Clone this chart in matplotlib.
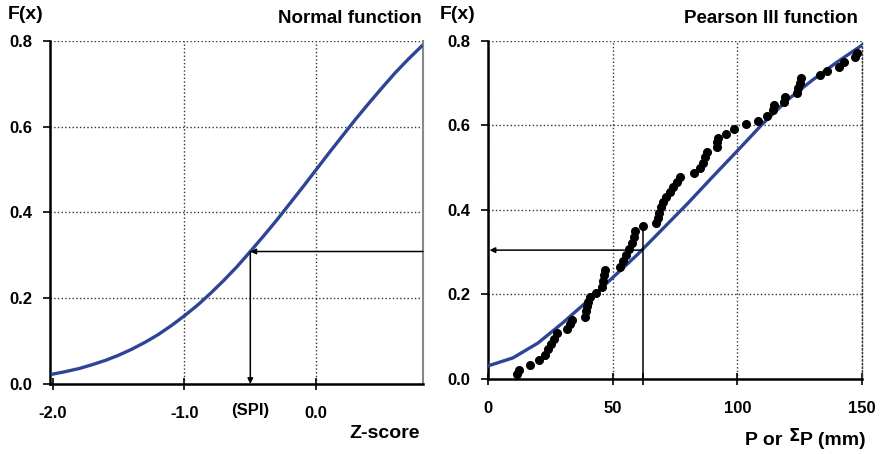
import numpy as np
import matplotlib.pyplot as plt

plt.rcParams['font.family'] = ['Liberation Sans', 'DejaVu Sans']
plt.rcParams['font.weight'] = 'bold'

# normal CDF
z = [-2.0, -1.9, -1.8, -1.7, -1.6, -1.5, -1.4, -1.3, -1.2, -1.1, -1.0, -0.9, -0.8, -0.7, -0.6,
     -0.5, -0.4, -0.3, -0.2, -0.1, 0.0, 0.1, 0.2, 0.3, 0.4, 0.5, 0.6, 0.7, 0.8]
fz = [0.023, 0.029, 0.036, 0.045, 0.055, 0.067, 0.081, 0.097, 0.115, 0.136, 0.159, 0.184, 0.212,
      0.242, 0.274, 0.309, 0.345, 0.382, 0.421, 0.460, 0.500, 0.540, 0.579, 0.618, 0.655, 0.691,
      0.726, 0.758, 0.788]
spi_z = -0.5
spi_f = 0.309

# Pearson III curve
p_fit = [0, 10, 20, 30, 40, 50, 60, 70, 80, 90, 100, 110, 120, 130, 140, 150]
f_fit = [0.031, 0.05, 0.085, 0.133, 0.185, 0.24, 0.295, 0.355, 0.415, 0.478, 0.54, 0.603,
         0.66, 0.707, 0.75, 0.79]

# observed points
obs_p = [11.8, 12.3, 17.0, 20.6, 23.0, 24.2, 25.3, 26.5, 27.6, 31.7, 32.8, 33.7, 39.0, 39.3,
         39.6, 40.0, 41.0, 43.3, 45.7, 46.1, 46.5, 47.0, 52.8, 54.0, 55.2, 56.4, 57.6, 58.5,
         59.1, 62.2, 67.5, 68.0, 68.6, 69.3, 70.2, 71.3, 72.8, 74.3, 75.8, 77.2, 82.5, 85.2,
         86.1, 87.0, 87.8, 91.9, 92.0, 92.1, 95.6, 98.8, 103.6, 108.3, 111.9, 114.3, 114.6,
         118.8, 119.3, 124.0, 124.5, 125.0, 125.6, 133.3, 136.0, 140.6, 142.9, 147.3, 148.0]
obs_f = [0.012, 0.021, 0.033, 0.045, 0.057, 0.07, 0.082, 0.095, 0.108, 0.118, 0.13, 0.14,
         0.147, 0.16, 0.172, 0.183, 0.193, 0.203, 0.218, 0.232, 0.245, 0.258, 0.266, 0.28,
         0.294, 0.308, 0.322, 0.336, 0.35, 0.362, 0.37, 0.382, 0.394, 0.406, 0.418, 0.43,
         0.443, 0.455, 0.467, 0.479, 0.487, 0.499, 0.512, 0.525, 0.538, 0.55, 0.56, 0.57,
         0.581, 0.592, 0.604, 0.611, 0.622, 0.637, 0.648, 0.655, 0.668, 0.676, 0.688, 0.70,
         0.712, 0.72, 0.73, 0.739, 0.751, 0.761, 0.772]
p_mark = 62.0
p_mark_f = 0.305

yt = [0.0, 0.2, 0.4, 0.6, 0.8]
yl = ['0.0', '0.2', '0.4', '0.6', '0.8']
blue = '#2e4597'
tfs = 12

fig = plt.figure(figsize=(8.83, 4.54), dpi=100)
ax1 = fig.add_axes([0.0566, 0.1542, 0.4224, 0.7555])
ax2 = fig.add_axes([0.5527, 0.1652, 0.4235, 0.7445])

for ax in (ax1, ax2):
    ax.set_ylim(0, 0.8)
    ax.set_yticks(yt)
    ax.set_yticklabels(yl, fontsize=tfs, fontweight='bold')
    ax.spines['top'].set_visible(False)
    ax.spines['left'].set_linewidth(1.8)
    ax.spines['bottom'].set_linewidth(1.8)
    ax.tick_params(axis='y', direction='out', length=5, width=1.2, pad=8)
    ax.tick_params(axis='x', direction='inout', length=9, width=1.2, pad=11)
    ax.grid(True, linestyle=':', color='#333333', linewidth=1.0)
    ax.set_axisbelow(True)

# left: normal function
ax1.set_xlim(-2.02, 0.81)
ax1.set_xticks([-2.0, -1.0, 0.0])
ax1.set_xticklabels(['-2.0', '-1.0', '0.0'], fontsize=tfs, fontweight='bold')
ax1.spines['right'].set_color('#888888')
ax1.spines['right'].set_linewidth(1.5)
ax1.xaxis.get_gridlines()[0].set_visible(False)
ax1.plot(z, fz, color=blue, lw=2.4, zorder=3)
ax1.annotate('', xy=(spi_z, spi_f), xytext=(0.81, spi_f),
             arrowprops=dict(arrowstyle='-|>', color='black', lw=1.1, mutation_scale=8,
                             shrinkA=0, shrinkB=0), zorder=4)
ax1.annotate('', xy=(spi_z, 0.0), xytext=(spi_z, spi_f),
             arrowprops=dict(arrowstyle='-|>', color='black', lw=1.1, mutation_scale=8,
                             shrinkA=0, shrinkB=0), zorder=4)
ax1.text(spi_z, -0.076, '(SPI)', ha='center', va='center', fontsize=tfs, fontweight='bold',
         transform=ax1.get_xaxis_transform())

# right: Pearson III function
ax2.set_xlim(0, 150)
ax2.set_xticks([0, 50, 100, 150])
ax2.set_xticklabels(['0', '50', '100', '150'], fontsize=tfs, fontweight='bold')
ax2.set_xticks([p_mark], minor=True)
ax2.tick_params(axis='x', which='minor', direction='inout', length=9, width=1.2)
ax2.spines['right'].set_linestyle(':')
ax2.spines['right'].set_color('#333333')
ax2.spines['right'].set_linewidth(1.0)
ax2.plot(p_fit, f_fit, color=blue, lw=2.4, zorder=3)
ax2.plot(obs_p, obs_f, 'o', color='black', markersize=5.5, zorder=4)
ax2.plot([p_mark, p_mark], [0, obs_f[obs_p.index(62.2)]], color='black', lw=1.1, zorder=4)
ax2.annotate('', xy=(0.6, p_mark_f), xytext=(p_mark, p_mark_f),
             arrowprops=dict(arrowstyle='-|>', color='black', lw=1.1, mutation_scale=8,
                             shrinkA=0, shrinkB=0), zorder=4)

fig.text(0.009, 0.969, 'F(x)', fontsize=14, fontweight='bold', ha='left', va='center')
fig.text(0.478, 0.960, 'Normal function', fontsize=13.5, fontweight='bold', ha='right',
         va='center')
fig.text(0.498, 0.969, 'F(x)', fontsize=14, fontweight='bold', ha='left', va='center')
fig.text(0.972, 0.960, 'Pearson III function', fontsize=13.5, fontweight='bold', ha='right',
         va='center')
fig.text(0.436, 0.046, 'Z-score', fontsize=14, fontweight='bold', ha='center', va='center')

# x label of right panel: "P or " + raised sigma + "P (mm)"
fig.canvas.draw()
r = fig.canvas.get_renderer()
t1 = fig.text(745 / 883, 0.030, 'P or ', fontsize=14, fontweight='bold', ha='left',
              va='center')
w1 = t1.get_window_extent(r).width
t2 = fig.text(745 / 883 + w1 / 883, 0.040, r'$\mathsf{\Sigma}$', fontsize=12, ha='left',
              va='center', fontweight='normal')
w2 = t2.get_window_extent(r).width
fig.text(745 / 883 + (w1 + w2) / 883, 0.030, 'P (mm)', fontsize=14, fontweight='bold',
         ha='left', va='center')

fig.savefig('out.png', dpi=100)
